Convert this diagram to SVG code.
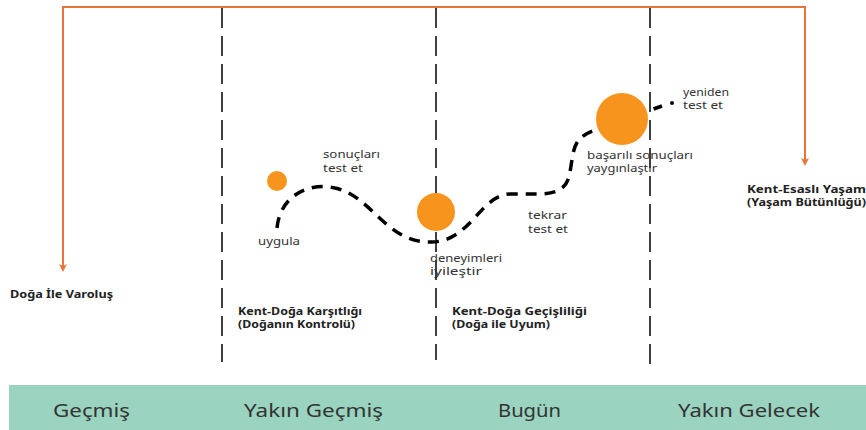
<svg xmlns="http://www.w3.org/2000/svg" width="866" height="430" viewBox="0 0 866 430">
<defs>
<style>
.vd{stroke:#000;stroke-width:1.5;stroke-dasharray:20 8;fill:none}
.or{stroke:#E8743B;stroke-width:2;fill:none}
.cv{stroke:#000;stroke-width:3.5;stroke-dasharray:11 8;fill:none}
.dot{fill:#F7941D}
.t{font-family:"Noto Sans","Lato",sans-serif;font-size:10.5px;fill:#333}
.b{font-family:"Noto Sans","Lato",sans-serif;font-size:10.5px;font-weight:bold;fill:#222}
.band{font-family:"Noto Sans","Lato",sans-serif;font-size:18px;fill:#333}
</style>
<marker id="ah" markerWidth="8" markerHeight="8" refX="4" refY="4" orient="auto" markerUnits="userSpaceOnUse">
<path d="M0,0 L8,4 L0,8 L2,4 Z" fill="#E8743B"/>
</marker>
</defs>
<rect width="866" height="430" fill="#fff"/>
<g id="connectors">
<line class="vd" x1="222" y1="8" x2="222" y2="362"/>
<line class="vd" x1="436" y1="8" x2="436" y2="360"/>
<line class="vd" x1="650" y1="8" x2="650" y2="368"/>
<polyline class="or" points="63,268 63,7 805,7 805,160"/>
<line class="or" x1="63" y1="100" x2="63" y2="268" marker-end="url(#ah)"/>
<line class="or" x1="805" y1="100" x2="805" y2="162" marker-end="url(#ah)"/>
<path class="cv" d="M277,228 C280,195 310,182 335,188 C372,196 385,242 430,242 C470,243 480,195 510,194 C540,193 566,200 570,172 C574,150 572,138 595,130 L662,106"/>
<circle cx="672" cy="103" r="2" fill="#000"/>
</g>
<g id="n-uygula"><circle class="dot" cx="277" cy="181" r="10"/><text class="t" x="258" y="245" textLength="42" lengthAdjust="spacingAndGlyphs">uygula</text></g>
<g id="n-sonuclari"><text class="t" x="323" y="158" textLength="57" lengthAdjust="spacingAndGlyphs">sonuçları</text><text class="t" x="323" y="172" textLength="40" lengthAdjust="spacingAndGlyphs">test et</text></g>
<g id="n-deneyimleri"><circle class="dot" cx="436" cy="212" r="19"/><text class="t" x="430" y="262" textLength="72" lengthAdjust="spacingAndGlyphs">deneyimleri</text><text class="t" x="430" y="275" textLength="52" lengthAdjust="spacingAndGlyphs">iyileştir</text></g>
<g id="n-tekrar"><text class="t" x="528" y="219" textLength="39" lengthAdjust="spacingAndGlyphs">tekrar</text><text class="t" x="528" y="233" textLength="40" lengthAdjust="spacingAndGlyphs">test et</text></g>
<g id="n-basarili"><circle class="dot" cx="622" cy="119" r="26"/><text class="t" x="587" y="159" textLength="106" lengthAdjust="spacingAndGlyphs">başarılı sonuçları</text><text class="t" x="587" y="172" textLength="70" lengthAdjust="spacingAndGlyphs">yaygınlaştır</text></g>
<g id="n-yeniden"><text class="t" x="683" y="96" textLength="46" lengthAdjust="spacingAndGlyphs">yeniden</text><text class="t" x="683" y="109" textLength="40" lengthAdjust="spacingAndGlyphs">test et</text></g>
<g id="n-doga"><text class="b" x="10" y="298" textLength="103" lengthAdjust="spacingAndGlyphs">Doğa İle Varoluş</text></g>
<g id="n-karsitlik"><text class="b" x="238" y="315" textLength="124" lengthAdjust="spacingAndGlyphs">Kent-Doğa Karşıtlığı</text><text class="b" x="238" y="328" textLength="117" lengthAdjust="spacingAndGlyphs">(Doğanın Kontrolü)</text></g>
<g id="n-gecislilik"><text class="b" x="452" y="315" textLength="135" lengthAdjust="spacingAndGlyphs">Kent-Doğa Geçişliliği</text><text class="b" x="452" y="328" textLength="98" lengthAdjust="spacingAndGlyphs">(Doğa ile Uyum)</text></g>
<g id="n-kentesasli"><text class="b" x="747" y="193" textLength="119" lengthAdjust="spacingAndGlyphs">Kent-Esaslı Yaşam</text><text class="b" x="747" y="206" textLength="119" lengthAdjust="spacingAndGlyphs">(Yaşam Bütünlüğü)</text></g>
<g id="band">
<rect x="9" y="385" width="857" height="45" fill="#9AD3BF"/>
<text class="band" x="53" y="417" textLength="77" lengthAdjust="spacingAndGlyphs">Geçmiş</text>
<text class="band" x="244" y="417" textLength="139" lengthAdjust="spacingAndGlyphs">Yakın Geçmiş</text>
<text class="band" x="498" y="417" textLength="63" lengthAdjust="spacingAndGlyphs">Bugün</text>
<text class="band" x="678" y="417" textLength="142" lengthAdjust="spacingAndGlyphs">Yakın Gelecek</text>
</g>
</svg>
